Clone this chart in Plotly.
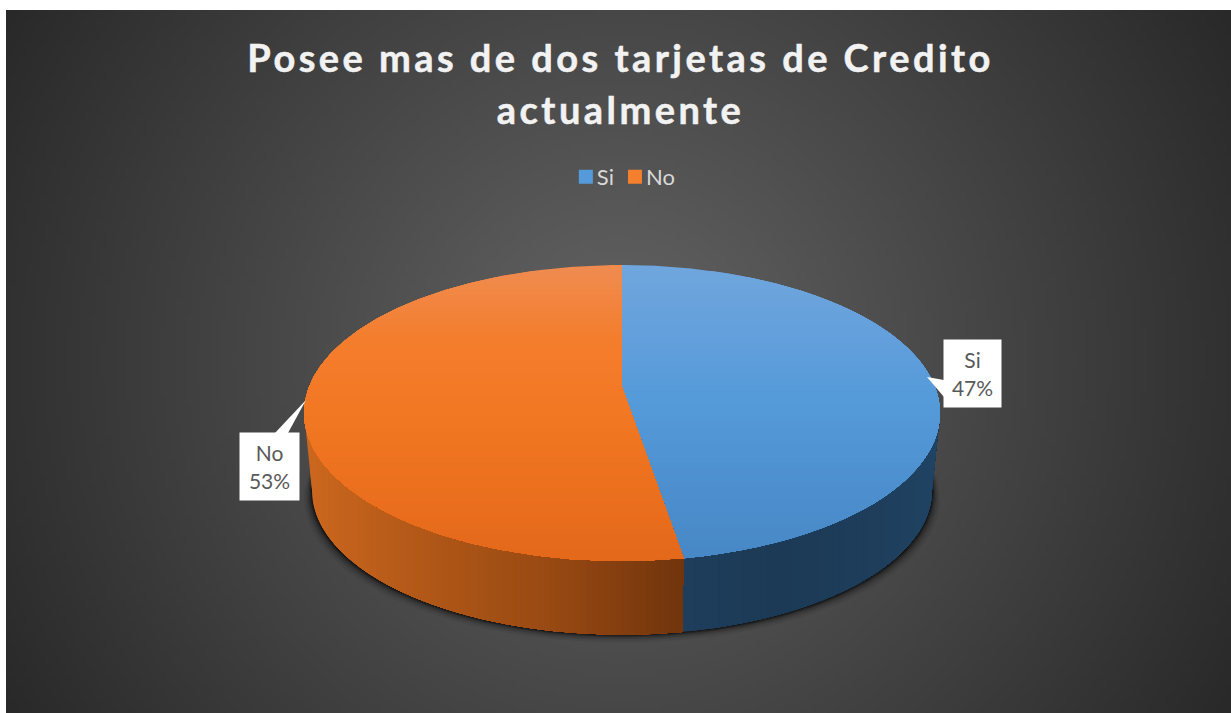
import numpy as np
import plotly.graph_objects as go

categories = ["Si", "No"]
values = [47.4, 52.6]
title_text = "Posee mas de dos tarjetas de Credito<br>actualmente"

W, H = 1231, 713
PANEL_X, PANEL_Y = 6, 10
CX, Y0, K, B, P = 622.0, 387.0, 313.0, 143.4, 0.1757
DEPTH, BOTTOM_SCALE = 78.0, 0.975
TOP_STOPS = {
    "Si": [(265, (112, 166, 221)), (330, (100, 160, 220)), (400, (85, 154, 217)), (561, (71, 135, 198))],
    "No": [(265, (239, 140, 80)), (340, (244, 125, 45)), (420, (242, 119, 34)), (561, (228, 104, 26))],
}
SIDE_STOPS = {
    "Si": [(684, (30, 62, 92)), (780, (28, 58, 85)), (880, (30, 62, 92)), (942, (32, 68, 100))],
    "No": [(300, (205, 104, 30)), (420, (178, 88, 24)), (560, (150, 72, 18)), (684, (112, 52, 12))],
}
SWATCH = {"Si": "#559bdb", "No": "#f47f2d"}
LABEL_BOX = {"Si": (944, 340, 57, 67), "No": (240, 433, 59, 67)}
LEADER = {"Si": [(927, 377), (944, 380), (944, 397)], "No": [(306, 400), (275, 433), (288, 433)]}


def project(theta_deg, scale=1.0, dy=0.0):
    t = np.radians(theta_deg)
    u, v = np.sin(t), -np.cos(t)
    d = 1 - P * v
    return CX + scale * K * u / d, Y0 + dy + scale * B * v / d


def clip(poly, axis, limit):
    """Keep the part of a polygon whose coordinate on axis is >= limit."""
    out = []
    n = len(poly)
    for i in range(n):
        a, b = poly[i], poly[(i + 1) % n]
        ina, inb = a[axis] >= limit, b[axis] >= limit
        if ina:
            out.append(a)
        if ina != inb:
            f = (limit - a[axis]) / (b[axis] - a[axis])
            out.append((a[0] + f * (b[0] - a[0]), a[1] + f * (b[1] - a[1])))
    return out


def interp(stops, pos):
    xs = [s[0] for s in stops]
    return "rgb(%d,%d,%d)" % tuple(round(float(np.interp(pos, xs, [s[1][i] for s in stops]))) for i in range(3))


def fill_trace(poly, color, opacity=1.0):
    pts = list(poly) + [poly[0]]
    return go.Scatter(x=[p[0] for p in pts], y=[p[1] for p in pts], mode="lines", fill="toself",
                      fillcolor=color, line=dict(width=0), opacity=opacity, hoverinfo="skip", showlegend=False)


fig = go.Figure()

# panel background
gx = np.arange(PANEL_X + 2.5, W + 2.5, 5)
gy = np.arange(PANEL_Y + 2.5, H + 2.5, 5)
xx, yy = np.meshgrid(gx, gy)
shade = 100 - 0.0845 * np.hypot(xx - 618, yy - 361)
fig.add_trace(go.Heatmap(x=gx, y=gy, z=shade, zmin=0, zmax=255, showscale=False, hoverinfo="skip",
                         colorscale=[[0, "#000000"], [1, "#ffffff"]]))

# soft shadow under the pie
angles = np.linspace(0, 360, 241)
for grow, alpha in [(8, .06), (6, .08), (4.5, .12), (3, .16), (2, .25), (1, .35)]:
    sx, sy = project(angles, BOTTOM_SCALE, DEPTH + grow)
    sx = CX + (sx - CX) * (1 + grow / 310)
    fig.add_trace(fill_trace(list(zip(sx, sy)), "#000000", alpha))

# slices
total = sum(values)
start = 0.0
spans = {}
for cat, val in zip(categories, values):
    spans[cat] = (start, start + 360.0 * val / total)
    start = spans[cat][1]

# side walls
for cat in categories:
    a, b = spans[cat]
    a2, b2 = max(a, 100.0), min(b, 260.0)
    th = np.linspace(a2, b2, 120)
    tx, ty = project(th)
    bx, by = project(th[::-1], BOTTOM_SCALE, DEPTH)
    poly = list(zip(tx, ty)) + list(zip(bx, by))
    lo = min(p[0] for p in poly)
    hi = max(p[0] for p in poly)
    for xk in np.arange(lo, hi, 6.0):
        part = clip(poly, 0, xk)
        if len(part) > 2:
            fig.add_trace(fill_trace(part, interp(SIDE_STOPS[cat], xk + 3)))

# top faces
for cat in categories:
    a, b = spans[cat]
    th = np.linspace(a, b, 240)
    tx, ty = project(th)
    poly = [(CX, Y0)] + list(zip(tx, ty))
    top = min(p[1] for p in poly)
    bot = max(p[1] for p in poly)
    for yk in np.arange(top, bot, 6.0):
        part = clip(poly, 1, yk)
        if len(part) > 2:
            fig.add_trace(fill_trace(part, interp(TOP_STOPS[cat], yk + 3)))

# leader callouts and labels
annotations = []
for cat, val in zip(categories, values):
    fig.add_trace(fill_trace(LEADER[cat], "#ffffff"))
    bx, by, bw, bh = LABEL_BOX[cat]
    annotations.append(dict(x=bx + bw / 2, y=by + bh / 2, xref="x", yref="y", showarrow=False,
                            text=f"{cat}<br>{round(val / total * 100)}%", width=bw, height=bh,
                            bgcolor="#ffffff", borderpad=0, align="center", valign="middle",
                            font=dict(family="Lato", size=21, color="#595959")))

# legend entries
for cat in categories:
    fig.add_trace(go.Scatter(x=[None], y=[None], mode="markers", name=cat,
                             marker=dict(symbol="square", size=14, color=SWATCH[cat])))

fig.update_layout(
    width=W, height=H, margin=dict(l=0, r=0, t=0, b=0),
    paper_bgcolor="#ffffff", plot_bgcolor="rgba(0,0,0,0)", autosize=False,
    title=dict(text=title_text, x=0.5041, xanchor="center", y=1 - 72 / H, yanchor="middle",
               font=dict(family="Lato", size=38, color="#f2f2f2", weight="bold")),
    xaxis=dict(range=[0, W], visible=False, fixedrange=True),
    yaxis=dict(range=[H, 0], visible=False, fixedrange=True),
    legend=dict(orientation="h", x=0.508, xanchor="center", y=1 - 177 / H, yanchor="middle",
                bgcolor="rgba(0,0,0,0)", font=dict(family="Lato", size=22, color="#d9d9d9")),
    annotations=annotations,
)

script = """
document.body.style.margin='0';
var t=document.querySelector('.gtitle');
if(t){t.style.letterSpacing='3.45px';t.style.stroke='#f2f2f2';t.style.strokeWidth='0.5px';
var s=t.querySelectorAll('tspan.line');if(s.length>1){s[1].setAttribute('dy','1.37em');}}
document.querySelectorAll('.legend .traces').forEach(function(g,i){
  var tx=g.querySelector('.legendtext');
  tx.setAttribute('x',parseFloat(tx.getAttribute('x'))-9);
});
var g=document.querySelectorAll('.legend .traces');
if(g.length>1){var m=/translate\\(([-\\d.]+)[ ,]*([-\\d.]+)\\)/.exec(g[1].getAttribute('transform'));
 g[1].setAttribute('transform','translate('+(parseFloat(m[1])-13)+','+m[2]+')');}
var lg=document.querySelector('.legend');
if(lg){var m2=/translate\\(([-\\d.]+)[ ,]*([-\\d.]+)\\)/.exec(lg.getAttribute('transform'));
 lg.setAttribute('transform','translate('+(parseFloat(m2[1])+9)+','+m2[2]+')');}
"""
fig.write_html("out.html", post_script=script, config={"displayModeBar": False})
